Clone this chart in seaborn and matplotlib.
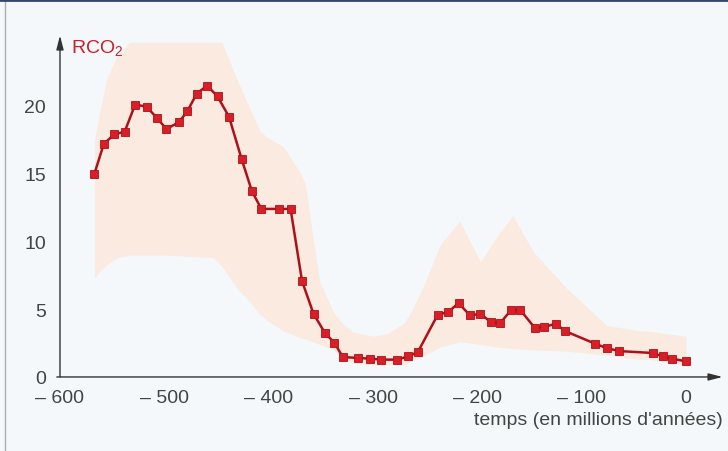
import matplotlib
matplotlib.use("Agg")
import matplotlib.pyplot as plt
import seaborn as sns

# RCO2 au cours du temps
time = [-567, -558, -548, -538, -528, -517, -507, -498, -486, -478, -469, -459, -449, -438,
        -426, -416, -407, -390, -379, -368, -357, -346, -337, -329, -314, -303, -292, -277,
        -266, -257, -238, -228, -218, -207, -197, -187, -178, -168, -159, -145, -136, -125,
        -116, -87, -76, -64, -32, -22, -13, 0]
rco2 = [15.0, 17.2, 17.9, 18.1, 20.1, 19.95, 19.1, 18.3, 18.8, 19.6, 20.9, 21.5, 20.7, 19.2,
        16.1, 13.7, 12.4, 12.4, 12.4, 7.07, 4.66, 3.24, 2.53, 1.47, 1.40, 1.35, 1.28, 1.28,
        1.52, 1.84, 4.59, 4.79, 5.45, 4.54, 4.66, 4.05, 3.98, 4.91, 4.96, 3.63, 3.68, 3.93,
        3.39, 2.45, 2.13, 1.91, 1.77, 1.52, 1.35, 1.15]

# zone d'incertitude
band_x = [-567, -562, -555, -545, -533, -500, -453, -445, -430, -421, -408, -400, -386, -370,
          -365, -358, -351, -338, -330, -319, -300, -286, -270, -262, -250, -236, -217, -197,
          -180, -166, -146, -114, -101, -76, -44, -37, 0]
band_high = [17.5, 19.5, 22.0, 23.7, 24.7, 24.7, 24.7, 24.7, 21.9, 20.3, 18.1, 17.6, 17.0, 15.1,
             14.3, 10.5, 7.0, 4.8, 4.0, 3.3, 3.0, 3.2, 4.0, 5.0, 7.0, 9.7, 11.5, 8.5,
             10.5, 11.9, 9.2, 6.5, 5.6, 3.8, 3.4, 3.4, 3.0]
band_low = [7.3, 7.8, 8.3, 8.8, 9.0, 9.0, 8.8, 8.2, 6.5, 5.8, 4.6, 4.1, 3.4, 2.9,
            2.8, 2.6, 2.4, 2.0, 1.5, 1.0, 0.9, 0.9, 0.9, 1.2, 1.6, 2.2, 2.6, 2.4,
            2.2, 2.1, 2.0, 1.9, 1.8, 1.6, 1.3, 1.3, 0.9]

xticks = [-600, -500, -400, -300, -200, -100, 0]
xtick_labels = ["\u2013 600", "\u2013 500", "\u2013 400", "\u2013 300", "\u2013 200", "\u2013 100", "0"]
yticks = [0, 5, 10, 15, 20]
ytick_labels = ["0", "5", "10", "15", "20"]

sns.set_theme(style="white")
plt.rcParams["font.family"] = ["Liberation Sans", "DejaVu Sans"]
plt.rcParams["mathtext.fontset"] = "custom"
plt.rcParams["mathtext.rm"] = "Liberation Sans"

fig = plt.figure(figsize=(7.28, 4.52), dpi=100, facecolor="#f4f8fa")
ax = fig.add_axes([0.0738, 0.1518, 0.9187, 0.7675])
ax.set_facecolor("none")

ax.fill_between(band_x, band_low, band_high, color="#fbeadf", lw=0)
sns.lineplot(x=time, y=rco2, ax=ax, color="#ad1018", lw=1.8, marker="s", markersize=6,
             markerfacecolor="#d81e26", markeredgecolor="#ad1018", markeredgewidth=0.6)

ax.set_xlim(-606, 35)
ax.set_ylim(-0.4, 25.2)

# axes avec fleches
for s in ax.spines.values():
    s.set_visible(False)
ax.spines["left"].set_position(("data", -600))
ax.spines["bottom"].set_position(("data", 0))
arrow = dict(arrowstyle="-|>,head_length=0.7,head_width=0.18", color="#333333", lw=1.0,
             shrinkA=0, shrinkB=0)
ax.annotate("", xy=(35, 0), xytext=(-603, 0), arrowprops=arrow, annotation_clip=False)
ax.annotate("", xy=(-600, 25.2), xytext=(-600, 0), arrowprops=arrow, annotation_clip=False)

ax.set_xticks(xticks, labels=xtick_labels)
ax.set_yticks(yticks, labels=ytick_labels)
ax.tick_params(direction="inout", length=8, width=0.9, color="#333333",
               labelsize=14, labelcolor="#444444", pad=5)
ax.tick_params(axis="y", pad=6)

ax.text(-589, 24.3, r"RCO$_\mathregular{2}$", color="#c8202a", fontsize=14, va="center", ha="left")
ax.set_xlabel("temps (en millions d'années)", loc="right", fontsize=14, color="#444444", labelpad=3)
ax.set_ylabel("")

# bords du scan
fig.add_artist(plt.Line2D([0.007, 0.007], [0, 1], transform=fig.transFigure, color="#a8b0b4", lw=1))
fig.add_artist(plt.Line2D([0, 1], [0.997, 0.997], transform=fig.transFigure, color="#34466a", lw=2))

fig.savefig("out.png", dpi=100)
